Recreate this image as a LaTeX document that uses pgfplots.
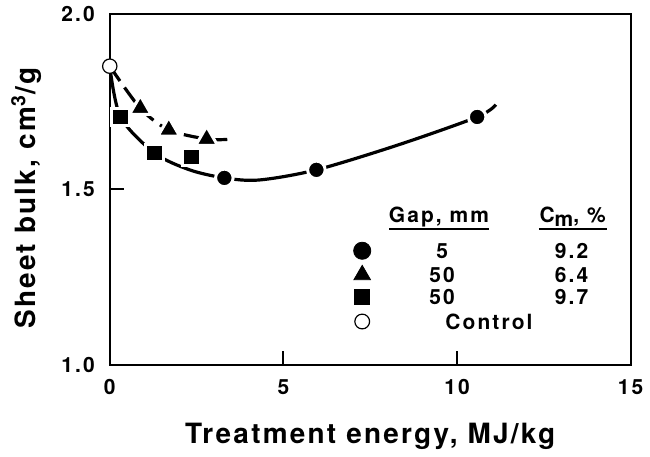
\documentclass[border=0pt]{standalone}
\usepackage{fontspec}
\setmainfont{TeX Gyre Heros}
\newfontfamily\labfont{TeX Gyre Heros}[LetterSpace=8]
\newfontfamily\tickfont{TeX Gyre Heros}[LetterSpace=10]
\usepackage{pgfplots}
\pgfplotsset{compat=1.18}

\begin{document}
\begin{tikzpicture}
\begin{axis}[
  scale only axis, width=261pt, height=175.5pt,
  xmin=0, xmax=15, ymin=1, ymax=2,
  xtick={0,5,10,15}, xticklabels={0,5,10,15},
  ytick={1,1.5,2}, yticklabels={1.0,1.5,2.0},
  tick pos=left, tick align=inside, major tick length=7pt,
  axis line style={line width=1pt},
  tick style={line width=1pt, black},
  ticklabel style={font=\tickfont\bfseries\fontsize{10.5}{12}\selectfont},
  xticklabel style={anchor=base, yshift=-15pt},
  yticklabel style={xshift=-4pt},
  label style={font=\labfont\bfseries\fontsize{14}{17}\selectfont},
  xlabel={Treatment energy, MJ/kg},
  xlabel style={at={([yshift=-39.5pt]axis description cs:0.5,0)}, anchor=base},
  ylabel={Sheet bulk, cm\textsuperscript{3}/g},
  ylabel style={at={([xshift=-37pt]axis description cs:0,0.475)}, anchor=base},
  clip=false,
]
% fitted curves
\addplot[line width=1.6pt, smooth, tension=0.5] coordinates {
  (0,1.852)(0.31,1.707)(1.29,1.604)(2.3,1.556)(3.30,1.533)(4.3,1.527)
  (5.95,1.556)(8.3,1.627)(10.58,1.707)(11.12,1.742)};
\addplot[line width=1.6pt, smooth, tension=0.5, dash pattern=on 9pt off 4pt] coordinates {
  (0,1.852)(0.88,1.732)(1.70,1.670)(2.79,1.644)(3.39,1.643)};

% data points (white rim breaks the lines)
\addplot[only marks, mark=*, mark size=4.4pt,
  mark options={fill=black, draw=white, line width=1.5pt}] coordinates {
  (3.30,1.533)(5.95,1.556)(10.58,1.707)};
\addplot[only marks, mark=triangle*, mark size=6.3pt,
  mark options={fill=black, draw=white, line width=1.5pt, line join=round}] coordinates {
  (0.88,1.732)(1.70,1.670)(2.79,1.644)};
\addplot[only marks, mark=square*, mark size=4.4pt,
  mark options={fill=black, draw=white, line width=1.5pt}] coordinates {
  (0.31,1.707)(1.29,1.604)(2.35,1.593)};
\addplot[only marks, mark=*, mark size=3.6pt,
  mark options={fill=white, draw=black, line width=0.6pt}] coordinates {(0,1.852)};

% key
\addplot[only marks, mark=*, mark size=4.3pt, mark options={fill=black}] coordinates {(7.27,1.325)};
\addplot[only marks, mark=triangle*, mark size=4.8pt, mark options={fill=black}] coordinates {(7.27,1.256)};
\addplot[only marks, mark=square*, mark size=3.7pt, mark options={fill=black}] coordinates {(7.27,1.194)};
\addplot[only marks, mark=*, mark size=3.7pt, mark options={fill=white, draw=black, line width=0.6pt}] coordinates {(7.27,1.123)};

\begin{scope}[every node/.style={font=\tickfont\bfseries\fontsize{10.5}{12}\selectfont, anchor=base}]
  \node at (axis cs:9.48,1.405) {Gap, mm};
  \node at (axis cs:13.33,1.405) {C\raisebox{-0.35ex}{m}, \%};
  \node at (axis cs:9.57,1.302) {5};
  \node at (axis cs:9.57,1.234) {50};
  \node at (axis cs:9.57,1.171) {50};
  \node at (axis cs:13.30,1.302) {9.2};
  \node at (axis cs:13.30,1.234) {6.4};
  \node at (axis cs:13.30,1.171) {9.7};
  \node at (axis cs:10.92,1.100) {Control};
\end{scope}
\draw[line width=0.8pt] (axis cs:8.05,1.387) -- (axis cs:10.92,1.387);
\draw[line width=0.8pt] (axis cs:12.36,1.387) -- (axis cs:14.31,1.387);
\end{axis}
\path ([xshift=-55pt,yshift=-45pt]current axis.south west)
  rectangle ([xshift=9pt,yshift=6pt]current axis.north east);
\end{tikzpicture}
\end{document}
